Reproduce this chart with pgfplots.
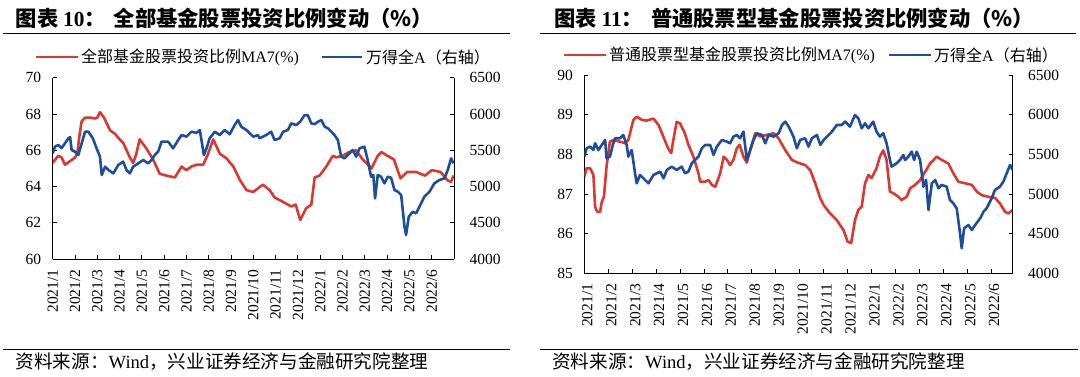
\documentclass[border=0pt]{standalone}
\usepackage{fontspec}
\setmainfont{Liberation Serif}
\newfontfamily\cjk{Noto Sans CJK SC}
\usepackage{pgfplots}
\pgfplotsset{compat=1.18}
\definecolor{myred}{RGB}{218,56,48}
\definecolor{myblue}{RGB}{30,78,155}
\pgfplotsset{
  base/.style={
    scale only axis, anchor=south west, xmin=0,
    xtick={0,...,17},
    xticklabels={2021/1,2021/2,2021/3,2021/4,2021/5,2021/6,2021/7,2021/8,2021/9,2021/10,2021/11,2021/12,2022/1,2022/2,2022/3,2022/4,2022/5,2022/6},
    tick align=inside, major tick length=4pt,
    axis line style={line width=1pt, black},
    tick style={line width=0.9pt, black},
    ticklabel style={font=\fontsize{15.5}{16}\selectfont},
    /pgf/number format/assume math mode=true,
    /pgf/number format/set thousands separator={},
    every axis plot/.append style={line width=2.6pt, no marks, line join=round},
  },
  leftax/.style={base, axis x line*=bottom, axis y line*=left,
    xticklabel style={yshift=-7pt, rotate=90, anchor=east},
    yticklabel style={xshift=-8pt}},
  rightax/.style={base, axis x line=none, axis y line*=right,
    yticklabel style={xshift=12pt}},
}
\begin{document}
\begin{tikzpicture}
\path[use as bounding box] (0pt,0pt) rectangle (1080pt,376pt);
% ---------- titles and rules
\node[anchor=west, inner sep=0] at (15.5pt,358pt) {\fontsize{21.3}{22}\selectfont{\cjk\bfseries 图表 }{\bfseries 10}{\cjk\bfseries ：\hspace{8pt}全部基金股票投资比例变动（\%）}};
\node[anchor=west, inner sep=0] at (554pt,358pt) {\fontsize{21.3}{22}\selectfont{\cjk\bfseries 图表 }{\bfseries 11}{\cjk\bfseries ：\hspace{8pt}普通股票型基金股票投资比例变动（\%）}};
\draw[line width=1pt] (3pt,342.4pt) -- (510pt,342.4pt);
\draw[line width=1pt] (540pt,342.4pt) -- (1076pt,342.4pt);
\draw[line width=1pt] (3pt,27pt) -- (510pt,27pt);
\draw[line width=1pt] (540pt,27pt) -- (1078pt,27pt);
\node[anchor=west, inner sep=0] at (15.5pt,14pt) {\fontsize{18.6}{19}\selectfont{\cjk 资料来源：}Wind{\cjk ，兴业证券经济与金融研究院整理}};
\node[anchor=west, inner sep=0] at (552pt,14pt) {\fontsize{18.6}{19}\selectfont{\cjk 资料来源：}Wind{\cjk ，兴业证券经济与金融研究院整理}};
% ---------- legends
\draw[myred, line width=2.6pt] (36pt,319pt) -- (78pt,319pt);
\node[anchor=west, inner sep=0] at (81pt,319pt) {\fontsize{16}{17}\selectfont{\cjk 全部基金股票投资比例}MA7(\%)};
\draw[myblue, line width=2.6pt] (322pt,319pt) -- (362pt,319pt);
\node[anchor=west, inner sep=0] at (366pt,319pt) {\fontsize{16}{17}\selectfont{\cjk 万得全}A{\cjk （右轴）}};
\draw[myred, line width=2.6pt] (564pt,321pt) -- (606pt,321pt);
\node[anchor=west, inner sep=0] at (609pt,321pt) {\fontsize{16}{17}\selectfont{\cjk 普通股票型基金股票投资比例}MA7(\%)};
\draw[myblue, line width=2.6pt] (889pt,321pt) -- (931pt,321pt);
\node[anchor=west, inner sep=0] at (934pt,321pt) {\fontsize{16}{17}\selectfont{\cjk 万得全}A{\cjk （右轴）}};

% ================= LEFT CHART
\begin{axis}[leftax, at={(52.7pt,117pt)}, width=401.3pt, height=181.3pt,
  xmax=18, ymin=60, ymax=70, ytick={60,62,...,70}]
\addplot[myred] coordinates {
(0,65.3)(0.25,65.7)(0.4,65.6)(0.55,65.2)(0.78,65.4)(1.0,65.6)(1.1,65.8)(1.2,66.8)(1.3,67.6)(1.45,67.8)(1.7,67.8)(1.9,67.75)(2.0,67.8)(2.12,68.1)(2.3,67.8)(2.57,67.1)(2.8,66.9)(3.0,66.6)(3.165,66.4)(3.46,65.6)(3.61,65.3)(3.75,65.8)(3.9,66.6)(4.2,66.1)(4.5,65.5)(4.8,64.7)(5.1,64.6)(5.48,64.5)(5.78,65.1)(6.0,64.9)(6.22,65.1)(6.45,65.2)(6.75,65.2)(6.97,65.8)(7.2,66.6)(7.5,65.8)(7.8,65.55)(8.1,65.1)(8.4,64.35)(8.69,63.8)(8.99,63.7)(9.21,63.9)(9.43,64.1)(9.73,63.8)(9.95,63.4)(10.33,63.15)(10.7,62.9)(10.9,63.0)(11.1,62.15)(11.37,62.8)(11.6,63.0)(11.75,64.5)(11.97,64.6)(12.27,65.1)(12.57,65.7)(12.72,65.6)(13.0,65.7)(13.3,65.9)(13.6,66.0)(13.9,65.5)(14.3,65.0)(14.58,65.7)(14.75,65.9)(15.0,65.7)(15.3,65.5)(15.6,64.45)(15.9,64.8)(16.3,64.8)(16.7,64.6)(17.0,64.9)(17.4,64.8)(17.7,64.35)(17.86,64.25)(17.98,64.6)
};
\end{axis}
\begin{axis}[rightax, at={(52.7pt,117pt)}, width=401.3pt, height=181.3pt,
  xmax=18, ymin=4000, ymax=6500, ytick={4000,4500,...,6500}]
\addplot[myblue] coordinates {
(0,5457)(0.1,5549)(0.25,5572)(0.4,5530)(0.55,5595)(0.7,5664)(0.78,5680)(0.85,5503)(1.0,5480)(1.15,5434)(1.3,5595)(1.45,5755)(1.6,5755)(1.68,5720)(1.8,5664)(1.97,5526)(2.12,5411)(2.2,5158)(2.35,5273)(2.5,5227)(2.72,5181)(2.94,5296)(3.16,5342)(3.31,5227)(3.46,5181)(3.61,5273)(3.84,5319)(4.06,5365)(4.28,5319)(4.43,5365)(4.58,5434)(4.73,5480)(4.88,5618)(5.18,5618)(5.4,5526)(5.63,5641)(5.78,5710)(6.0,5687)(6.22,5755)(6.45,5740)(6.6,5778)(6.78,5434)(6.9,5526)(7.04,5664)(7.27,5755)(7.49,5710)(7.72,5778)(7.94,5720)(8.16,5847)(8.31,5916)(8.46,5824)(8.69,5778)(9.0,5687)(9.2,5710)(9.28,5664)(9.58,5710)(9.8,5755)(9.95,5641)(10.18,5664)(10.33,5755)(10.55,5778)(10.7,5870)(10.92,5847)(11.1,5893)(11.3,5985)(11.45,5980)(11.6,5870)(11.75,5860)(11.9,5893)(12.05,5916)(12.2,5824)(12.35,5801)(12.5,5755)(12.64,5710)(12.79,5641)(12.94,5411)(13.09,5388)(13.31,5457)(13.46,5503)(13.61,5411)(13.76,5526)(13.98,5549)(14.13,5365)(14.28,5135)(14.38,5158)(14.46,4836)(14.58,5158)(14.73,5135)(14.88,5043)(15.03,5135)(15.18,5120)(15.33,4951)(15.48,4928)(15.63,4882)(15.78,4446)(15.85,4331)(15.97,4583)(16.15,4652)(16.3,4629)(16.45,4721)(16.67,4859)(16.9,4928)(17.12,5043)(17.34,5089)(17.57,5112)(17.72,5227)(17.87,5388)(17.98,5319)
};
\end{axis}

% ================= RIGHT CHART
\begin{axis}[leftax, at={(584.3pt,102.7pt)}, width=428.4pt, height=198.3pt,
  xmax=17.9, ymin=85, ymax=90, ytick={85,...,90},
  xticklabel style={yshift=-3pt}]
\addplot[myred] coordinates {
(0,87.44)(0.1,87.65)(0.24,87.65)(0.38,87.48)(0.45,86.68)(0.54,86.55)(0.66,86.55)(0.73,86.8)(0.82,86.93)(0.93,87.7)(1.07,88.32)(1.21,88.36)(1.49,88.32)(1.7,88.28)(1.84,88.36)(2.05,88.87)(2.19,88.95)(2.4,88.87)(2.6,88.85)(2.89,88.9)(3.1,88.74)(3.3,88.45)(3.5,88.15)(3.63,88.03)(3.72,88.36)(3.86,88.82)(4.0,88.78)(4.2,88.53)(4.35,88.24)(4.56,87.94)(4.77,87.52)(4.84,87.31)(5.05,87.31)(5.19,87.35)(5.33,87.23)(5.47,87.18)(5.68,87.52)(5.82,87.94)(5.96,87.86)(6.09,87.73)(6.23,87.86)(6.37,88.15)(6.49,88.24)(6.65,87.94)(6.79,87.79)(6.93,88.1)(7.14,88.53)(7.35,88.45)(7.63,88.49)(7.91,88.53)(8.12,88.4)(8.4,88.1)(8.67,87.86)(8.88,87.8)(9.23,87.73)(9.44,87.6)(9.65,87.27)(9.86,86.89)(10.0,86.72)(10.27,86.51)(10.55,86.34)(10.83,86.09)(11.0,85.8)(11.15,85.76)(11.31,86.34)(11.45,86.6)(11.59,86.68)(11.73,87.27)(11.87,87.48)(12.0,87.4)(12.21,87.65)(12.35,87.94)(12.49,88.1)(12.63,87.86)(12.77,87.06)(12.91,87.02)(13.12,86.93)(13.26,86.85)(13.47,86.93)(13.61,87.14)(13.82,87.23)(14.03,87.35)(14.24,87.56)(14.45,87.77)(14.72,87.94)(14.93,87.86)(15.21,87.77)(15.42,87.52)(15.63,87.31)(15.84,87.28)(16.19,87.23)(16.4,87.06)(16.61,86.97)(16.88,86.93)(17.16,86.9)(17.37,86.76)(17.58,86.55)(17.72,86.51)(17.9,86.6)
};
\end{axis}
\begin{axis}[rightax, at={(584.3pt,102.7pt)}, width=428.4pt, height=198.3pt,
  xmax=17.9, ymin=4000, ymax=6500, ytick={4000,4500,...,6500}]
\addplot[myblue] coordinates {
(0,5471)(0.1,5576)(0.24,5597)(0.38,5555)(0.45,5639)(0.59,5555)(0.73,5618)(0.87,5681)(0.93,5450)(1.07,5471)(1.19,5618)(1.28,5702)(1.49,5702)(1.63,5744)(1.77,5618)(1.84,5471)(1.91,5513)(1.98,5555)(2.12,5261)(2.19,5135)(2.33,5240)(2.47,5198)(2.68,5135)(2.89,5240)(3.03,5261)(3.17,5282)(3.31,5198)(3.45,5303)(3.65,5345)(3.86,5303)(4.07,5345)(4.21,5261)(4.35,5282)(4.49,5387)(4.63,5429)(4.77,5471)(4.91,5576)(5.05,5618)(5.26,5618)(5.4,5492)(5.54,5597)(5.75,5681)(5.96,5660)(6.09,5639)(6.23,5723)(6.37,5744)(6.51,5702)(6.65,5786)(6.79,5429)(6.93,5555)(7.07,5681)(7.21,5765)(7.42,5744)(7.56,5639)(7.7,5744)(7.91,5723)(8.12,5765)(8.26,5870)(8.4,5912)(8.54,5849)(8.74,5723)(8.88,5576)(9.02,5681)(9.23,5702)(9.37,5597)(9.51,5702)(9.72,5744)(9.86,5618)(10.0,5681)(10.21,5744)(10.35,5786)(10.55,5870)(10.76,5870)(10.9,5912)(11.1,5849)(11.31,5996)(11.45,5954)(11.59,5828)(11.73,5891)(11.87,5828)(12.07,5912)(12.21,5786)(12.35,5723)(12.49,5765)(12.63,5639)(12.77,5429)(12.84,5345)(13.05,5387)(13.19,5429)(13.33,5492)(13.4,5429)(13.54,5471)(13.68,5534)(13.78,5429)(13.89,5534)(14.03,5429)(14.17,5093)(14.28,5177)(14.38,4798)(14.52,5135)(14.66,5177)(14.8,5072)(14.93,5114)(15.14,5093)(15.28,4924)(15.42,4882)(15.56,4819)(15.7,4504)(15.77,4315)(15.87,4567)(16.05,4609)(16.19,4546)(16.33,4609)(16.54,4693)(16.68,4777)(16.81,4819)(17.02,4945)(17.16,5051)(17.37,5093)(17.51,5156)(17.65,5261)(17.79,5366)(17.9,5303)
};
\end{axis}
\end{tikzpicture}
\end{document}
